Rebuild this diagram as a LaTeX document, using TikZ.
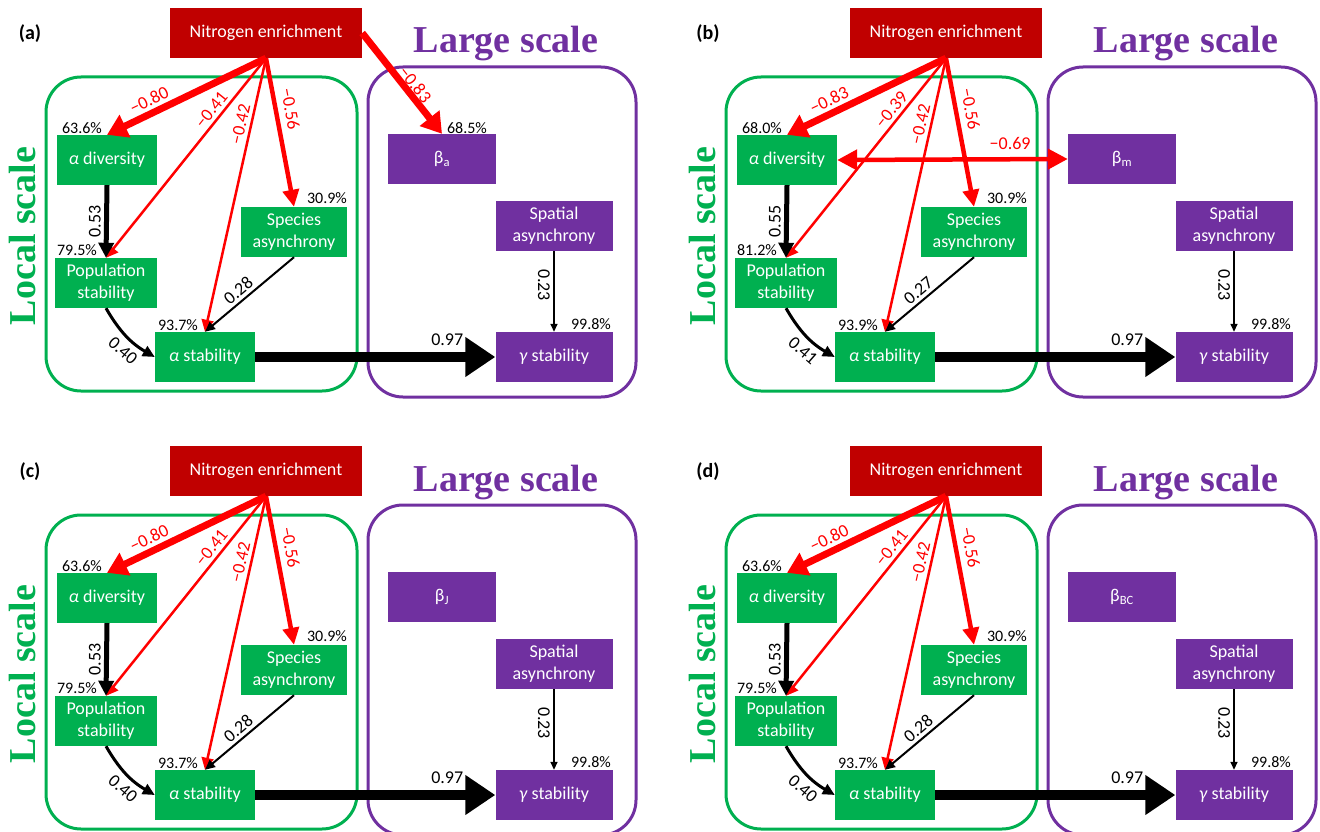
\documentclass[tikz,border=0pt]{standalone}
\usepackage{fontspec}
\setmainfont{Carlito}
\newfontfamily\scalefont{Liberation Serif}
\usetikzlibrary{arrows.meta}

\definecolor{localgreen}{HTML}{00B050}
\definecolor{largepurple}{HTML}{7030A0}
\definecolor{nitrored}{HTML}{C00000}
\definecolor{pathred}{HTML}{FF0000}

\begin{document}
\begin{tikzpicture}[x=1pt, y=-1pt,
    box/.style={minimum width=100pt, minimum height=50pt, inner sep=0pt, align=center,
        text=white, font=\fontsize{18}{22}\selectfont},
    localbox/.style={box, fill=localgreen},
    largebox/.style={box, fill=largepurple},
    nbox/.style={box, fill=nitrored, minimum width=192pt},
    pct/.style={font=\fontsize{16}{18}\selectfont, inner sep=0pt},
    scaletitle/.style={font=\scalefont\bfseries\fontsize{38}{40}\selectfont, inner sep=0pt},
    panel/.style={font=\bfseries\fontsize{20}{22}\selectfont},
    every node/.append style={font=\fontsize{18}{20}\selectfont},
    outline/.style={line width=3pt, rounded corners=35pt},
    red1/.style={pathred, line width=7pt, -{Triangle[length=20pt, width=24pt]}},
    red2/.style={pathred, line width=4.5pt, -{Triangle[length=17pt, width=16pt]}},
    red3/.style={pathred, line width=2.5pt, -{Triangle[length=12pt, width=12pt]}},
    blk1/.style={black, line width=5pt, -{Triangle[length=15pt, width=15pt]}},
    blk2/.style={black, line width=3pt, -{Triangle[length=12pt, width=11pt]}},
    blk3/.style={black, line width=2pt, -{Triangle[length=10pt, width=9pt]}},
    blk4/.style={black, line width=1.5pt, -{Triangle[length=8pt, width=7pt]}},
    blkbig/.style={black, line width=10pt, -{Triangle[length=30pt, width=38pt]}}]

    \useasboundingbox (0,0) rectangle (1320,832);

    % Panel (a)
    \begin{scope}[name prefix=a-]
    \draw[localgreen, outline] (46,77) rectangle (357,391);
    \draw[largepurple, outline] (368,67) rectangle (636,397);
    \node[panel] (lab) at (30,34) {(a)};
    \node[scaletitle, text=largepurple, anchor=base] (large) at (506,53) {Large scale};
    \node[scaletitle, text=localgreen, rotate=90, anchor=base] (local) at (35,236) {Local scale};

    \node[nbox] (N) at (266,33) {Nitrogen enrichment};
    \node[localbox] (div) at (107,160) {\textit{α} diversity};
    \node[localbox, minimum width=102pt] (pop) at (106,283) {Population\\stability};
    \node[localbox, minimum width=106pt] (spec) at (294,232) {Species\\asynchrony};
    \node[localbox] (stab) at (205,357) {\textit{α} stability};
    \node[largebox, minimum width=108pt] (beta) at (442,159) {β\textsubscript{a}};
    \node[largebox, minimum width=117pt] (spat) at (554,226) {Spatial\\asynchrony};
    \node[largebox, minimum width=117pt] (gam) at (554,357) {\textit{γ} stability};

    \node[pct] (pdiv) at (82,128) {63.6\%};
    \node[pct] (ppop) at (77,250) {79.5\%};
    \node[pct] (pspec) at (327,198) {30.9\%};
    \node[pct] (pstab) at (178,325) {93.7\%};
    \node[pct] (pbeta) at (467,128) {68.5\%};
    \node[pct] (pgam) at (591,324) {99.8\%};

    \draw[red1] (N.south) -- node[pos=0.7, sloped, above] {−0.80} (div.north);
    \draw[red3] (N.south) -- node[pos=0.29, sloped, above] {−0.41} (pop.north);
    \draw[red3] (N.south) -- node[pos=0.25, sloped, above] {−0.42} (stab.north);
    \draw[red2] (N.south) -- node[pos=0.36, sloped, above=3pt] {−0.56} (spec.north);
    \draw[red1] (N.east) -- node[pos=0.57, sloped, above, inner sep=0pt] {−0.83} (beta.north);
    \draw[blk1] (div.south) -- node[midway, rotate=90, anchor=south] {0.53} (pop.north);
    \draw[blk2] (pop.south) to[bend right=15] node[pos=0.6, sloped, below=2pt] {0.40} (stab.west);
    \draw[blk3] (spec.south) -- node[pos=0.55, sloped, above] {0.28} (stab.north);
    \draw[blk4] (spat.south) -- node[pos=0.42, rotate=-90, anchor=north] {0.23} (gam.north);
    \draw[blkbig] (stab.east) -- node[pos=0.8, above=3pt] {0.97} (gam.west);
    \end{scope}

    % Panel (b)
    \begin{scope}[shift={(680,0)}, name prefix=b-]
    \draw[localgreen, outline] (46,77) rectangle (357,391);
    \draw[largepurple, outline] (368,67) rectangle (636,397);
    \node[panel] (lab) at (28,34) {(b)};
    \node[scaletitle, text=largepurple, anchor=base] (large) at (506,53) {Large scale};
    \node[scaletitle, text=localgreen, rotate=90, anchor=base] (local) at (35,236) {Local scale};

    \node[nbox] (N) at (266,33) {Nitrogen enrichment};
    \node[localbox] (div) at (107,160) {\textit{α} diversity};
    \node[localbox, minimum width=102pt] (pop) at (106,283) {Population\\stability};
    \node[localbox, minimum width=106pt] (spec) at (294,232) {Species\\asynchrony};
    \node[localbox] (stab) at (205,357) {\textit{α} stability};
    \node[largebox, minimum width=108pt] (beta) at (442,159) {β\textsubscript{m}};
    \node[largebox, minimum width=117pt] (spat) at (554,226) {Spatial\\asynchrony};
    \node[largebox, minimum width=117pt] (gam) at (554,357) {\textit{γ} stability};

    \node[pct] (pdiv) at (82,128) {68.0\%};
    \node[pct] (ppop) at (77,250) {81.2\%};
    \node[pct] (pspec) at (327,198) {30.9\%};
    \node[pct] (pstab) at (178,325) {93.9\%};
    \node[pct] (pgam) at (591,324) {99.8\%};

    \draw[red1] (N.south) -- node[pos=0.7, sloped, above] {−0.83} (div.north);
    \draw[red3] (N.south) -- node[pos=0.29, sloped, above] {−0.39} (pop.north);
    \draw[red3] (N.south) -- node[pos=0.25, sloped, above] {−0.42} (stab.north);
    \draw[red2] (N.south) -- node[pos=0.36, sloped, above=3pt] {−0.56} (spec.north);
    \draw[red2, {Triangle[length=20pt, width=20pt]}-{Triangle[length=20pt, width=20pt]}]
        (div.east) -- node[pos=0.75, above=4pt] {−0.69} (beta.west);
    \draw[blk1] (div.south) -- node[midway, rotate=90, anchor=south] {0.55} (pop.north);
    \draw[blk2] (pop.south) to[bend right=15] node[pos=0.6, sloped, below=2pt] {0.41} (stab.west);
    \draw[blk3] (spec.south) -- node[pos=0.55, sloped, above] {0.27} (stab.north);
    \draw[blk4] (spat.south) -- node[pos=0.42, rotate=-90, anchor=north] {0.23} (gam.north);
    \draw[blkbig] (stab.east) -- node[pos=0.8, above=3pt] {0.97} (gam.west);
    \end{scope}

    % Panel (c)
    \begin{scope}[shift={(0,438)}, name prefix=c-]
    \draw[localgreen, outline] (46,77) rectangle (357,391);
    \draw[largepurple, outline] (368,67) rectangle (636,397);
    \node[panel] (lab) at (30,34) {(c)};
    \node[scaletitle, text=largepurple, anchor=base] (large) at (506,53) {Large scale};
    \node[scaletitle, text=localgreen, rotate=90, anchor=base] (local) at (35,236) {Local scale};

    \node[nbox] (N) at (266,33) {Nitrogen enrichment};
    \node[localbox] (div) at (107,160) {\textit{α} diversity};
    \node[localbox, minimum width=102pt] (pop) at (106,283) {Population\\stability};
    \node[localbox, minimum width=106pt] (spec) at (294,232) {Species\\asynchrony};
    \node[localbox] (stab) at (205,357) {\textit{α} stability};
    \node[largebox, minimum width=108pt] (beta) at (442,159) {β\textsubscript{J}};
    \node[largebox, minimum width=117pt] (spat) at (554,226) {Spatial\\asynchrony};
    \node[largebox, minimum width=117pt] (gam) at (554,357) {\textit{γ} stability};

    \node[pct] (pdiv) at (82,128) {63.6\%};
    \node[pct] (ppop) at (77,250) {79.5\%};
    \node[pct] (pspec) at (327,198) {30.9\%};
    \node[pct] (pstab) at (178,325) {93.7\%};
    \node[pct] (pgam) at (591,324) {99.8\%};

    \draw[red1] (N.south) -- node[pos=0.7, sloped, above] {−0.80} (div.north);
    \draw[red3] (N.south) -- node[pos=0.29, sloped, above] {−0.41} (pop.north);
    \draw[red3] (N.south) -- node[pos=0.25, sloped, above] {−0.42} (stab.north);
    \draw[red2] (N.south) -- node[pos=0.36, sloped, above=3pt] {−0.56} (spec.north);
    \draw[blk1] (div.south) -- node[midway, rotate=90, anchor=south] {0.53} (pop.north);
    \draw[blk2] (pop.south) to[bend right=15] node[pos=0.6, sloped, below=2pt] {0.40} (stab.west);
    \draw[blk3] (spec.south) -- node[pos=0.55, sloped, above] {0.28} (stab.north);
    \draw[blk4] (spat.south) -- node[pos=0.42, rotate=-90, anchor=north] {0.23} (gam.north);
    \draw[blkbig] (stab.east) -- node[pos=0.8, above=3pt] {0.97} (gam.west);
    \end{scope}

    % Panel (d)
    \begin{scope}[shift={(680,438)}, name prefix=d-]
    \draw[localgreen, outline] (46,77) rectangle (357,391);
    \draw[largepurple, outline] (368,67) rectangle (636,397);
    \node[panel] (lab) at (28,34) {(d)};
    \node[scaletitle, text=largepurple, anchor=base] (large) at (506,53) {Large scale};
    \node[scaletitle, text=localgreen, rotate=90, anchor=base] (local) at (35,236) {Local scale};

    \node[nbox] (N) at (266,33) {Nitrogen enrichment};
    \node[localbox] (div) at (107,160) {\textit{α} diversity};
    \node[localbox, minimum width=102pt] (pop) at (106,283) {Population\\stability};
    \node[localbox, minimum width=106pt] (spec) at (294,232) {Species\\asynchrony};
    \node[localbox] (stab) at (205,357) {\textit{α} stability};
    \node[largebox, minimum width=108pt] (beta) at (442,159) {β\textsubscript{BC}};
    \node[largebox, minimum width=117pt] (spat) at (554,226) {Spatial\\asynchrony};
    \node[largebox, minimum width=117pt] (gam) at (554,357) {\textit{γ} stability};

    \node[pct] (pdiv) at (82,128) {63.6\%};
    \node[pct] (ppop) at (77,250) {79.5\%};
    \node[pct] (pspec) at (327,198) {30.9\%};
    \node[pct] (pstab) at (178,325) {93.7\%};
    \node[pct] (pgam) at (591,324) {99.8\%};

    \draw[red1] (N.south) -- node[pos=0.7, sloped, above] {−0.80} (div.north);
    \draw[red3] (N.south) -- node[pos=0.29, sloped, above] {−0.41} (pop.north);
    \draw[red3] (N.south) -- node[pos=0.25, sloped, above] {−0.42} (stab.north);
    \draw[red2] (N.south) -- node[pos=0.36, sloped, above=3pt] {−0.56} (spec.north);
    \draw[blk1] (div.south) -- node[midway, rotate=90, anchor=south] {0.53} (pop.north);
    \draw[blk2] (pop.south) to[bend right=15] node[pos=0.6, sloped, below=2pt] {0.40} (stab.west);
    \draw[blk3] (spec.south) -- node[pos=0.55, sloped, above] {0.28} (stab.north);
    \draw[blk4] (spat.south) -- node[pos=0.42, rotate=-90, anchor=north] {0.23} (gam.north);
    \draw[blkbig] (stab.east) -- node[pos=0.8, above=3pt] {0.97} (gam.west);
    \end{scope}
\end{tikzpicture}
\end{document}
